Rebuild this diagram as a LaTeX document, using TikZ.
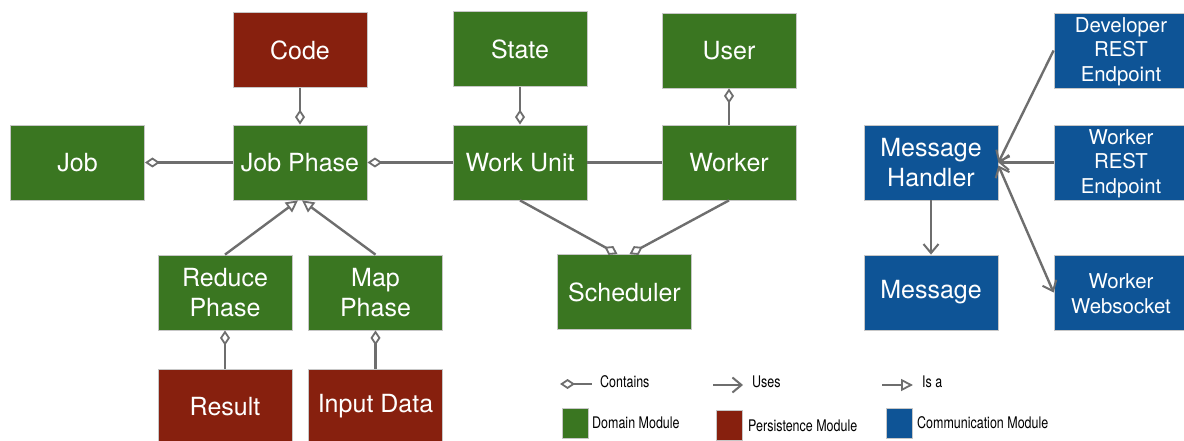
\documentclass[tikz,border=0pt]{standalone}
\usepackage{fontspec}
\setmainfont{TeX Gyre Heros}
\newfontfamily\legendfont[FakeStretch=0.78]{TeX Gyre Heros}
\usetikzlibrary{arrows.meta}

\definecolor{domain}{RGB}{58,118,33}
\definecolor{persist}{RGB}{135,32,14}
\definecolor{comm}{RGB}{14,84,150}
\definecolor{wire}{RGB}{110,110,110}

\tikzset{
  module/.style={draw=black!22, line width=0.8pt, minimum width=134pt, minimum height=75pt,
    inner sep=0pt, text=white, align=center, font=\fontsize{25}{30}\selectfont},
  domainbox/.style={module, fill=domain},
  persistbox/.style={module, fill=persist},
  commbox/.style={module, fill=comm, font=\fontsize{20.4}{24.5}\selectfont},
  commbig/.style={module, fill=comm},
  wireline/.style={draw=wire, line width=2.4pt},
  has/.style={wireline, {Diamond[length=15pt, width=10pt, fill=white, line width=1.8pt]}-},
  barb/.tip={Straight Barb[length=9pt, width=15pt, line width=2pt]},
  uses/.style={wireline, -barb},
  usesboth/.style={wireline, barb-barb},
  isa/.style={wireline, -{Triangle[length=12pt, width=12pt, fill=white, line width=1.8pt]}},
  legendtext/.style={anchor=west, inner sep=0pt, font=\legendfont\fontsize{16}{18}\selectfont},
  swatch/.style={draw=black!22, line width=0.6pt, minimum width=26pt, minimum height=30pt, inner sep=0pt}
}

\begin{document}
\begin{tikzpicture}[x=1pt, y=-1pt]
\useasboundingbox (0,0) rectangle (1184,441);
\clip (0,0) rectangle (1184,441);

% domain model
\node[persistbox] (code)     at (300,50)    {Code};
\node[domainbox]  (job)      at (77.5,162.5) {Job};
\node[domainbox]  (jobphase) at (300,162.5) {Job Phase};
\node[domainbox]  (state)    at (520,49)    {State};
\node[domainbox]  (user)     at (729,50.5)  {User};
\node[domainbox]  (workunit) at (520,162.5) {Work Unit};
\node[domainbox]  (worker)   at (729,162.5) {Worker};
\node[domainbox]  (reduce)   at (225,292.5) {Reduce\\Phase};
\node[domainbox]  (map)      at (375.5,292.5) {Map\\Phase};
\node[domainbox]  (sched)    at (624.5,292) {Scheduler};
\node[persistbox] (result)   at (225,406.5) {Result};
\node[persistbox] (input)    at (375.5,406.5) {Input Data};

% communication layer
\node[commbox] (devrest)  at (1121,50.5)  {\strut Developer\\REST\\Endpoint};
\node[commbig] (handler)  at (931,162.5)  {Message\\Handler};
\node[commbox] (workrest) at (1121,162.5) {\strut Worker\\REST\\Endpoint};
\node[commbig] (message)  at (931,292.5)  {Message};
\node[commbox] (wsock)    at (1121,292.5) {\strut Worker\\Websocket};

% containment
\draw[has] (job.east) -- (jobphase.west);
\draw[has] (jobphase.east) -- (workunit.west);
\draw[has] (jobphase.north) -- (code.south);
\draw[has] (workunit.north) -- (state.south);
\draw[has] (user.south) -- (worker.north);
\draw[wireline] (workunit.east) -- (worker.west);
\draw[has] ([xshift=-7pt]sched.north) -- (workunit.south);
\draw[has] ([xshift=5pt]sched.north) -- (worker.south);
\draw[has] (reduce.south) -- (result.north);
\draw[has] (map.south) -- (input.north);

% inheritance
\draw[isa] (reduce.north) -- ([xshift=-2pt]jobphase.south);
\draw[isa] (map.north) -- ([xshift=2pt]jobphase.south);

% usage
\draw[uses] (devrest.west) -- (handler.east);
\draw[uses] (workrest.west) -- (handler.east);
\draw[usesboth] ([yshift=-3pt]handler.east) -- (wsock.west);
\draw[uses] (handler.south) -- (message.north);

% legend
\coordinate (lc1) at (560,384);
\coordinate (lc2) at (592,384);
\draw[has] (lc1) -- (lc2);
\node[legendtext] (lcontains) at (600,382) {Contains};
\coordinate (lu1) at (713,385);
\coordinate (lu2) at (743,385);
\draw[uses] (lu1) -- (lu2);
\node[legendtext] (luses) at (752,382) {Uses};
\coordinate (li1) at (882,385);
\coordinate (li2) at (913,385);
\draw[isa] (li1) -- (li2);
\node[legendtext] (lisa) at (922,382) {Is a};

\node[swatch, fill=domain]  (sdomain)  at (575,423)   {};
\node[legendtext] (tdomain) at (592,423) {Domain Module};
\node[swatch, fill=persist] (spersist) at (729,425.5) {};
\node[legendtext] (tpersist) at (748,426) {Persistence Module};
\node[swatch, fill=comm]    (scomm)    at (899,423)   {};
\node[legendtext] (tcomm) at (917,423) {Communication Module};
\end{tikzpicture}
\end{document}
